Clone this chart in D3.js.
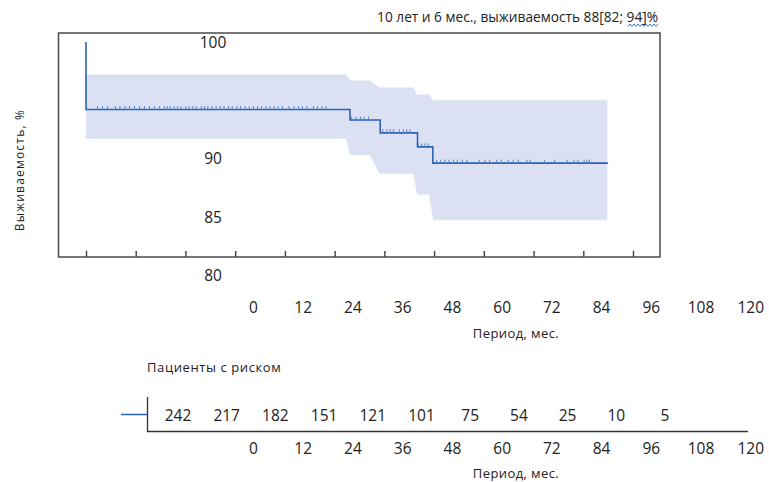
<!DOCTYPE html>
<html>
<head>
<meta charset="utf-8">
<script src="https://cdn.jsdelivr.net/npm/d3@7"></script>
<style>
  body { margin: 0; background: #fff; }
  text { font-family: "Open Sans", Roboto, sans-serif; fill: #222; }
</style>
</head>
<body>
<svg id="chart" width="769" height="482"></svg>
<script>
// Kaplan-Meier survival, months
const survTimes = [0, 0, 63.7, 71.0, 80.0, 83.7, 126];
const survValues = [100, 94.2, 93.3, 92.2, 91.0, 89.6, 89.6];

// confidence band
const ciTimes = [0, 62.8, 63.7, 68.5, 70.8, 79.0, 79.9, 82.8, 83.8, 125.8];
const ciUpper = [97.2, 97.2, 96.7, 96.7, 96.1, 96.1, 95.5, 95.5, 95.0, 95.0];
const ciLower = [91.7, 91.7, 90.3, 90.3, 88.7, 88.7, 86.9, 86.9, 84.7, 84.7];

// censored observations
const censorTimes = [2.8, 4.0, 5.2, 7.1, 8.2, 9.4, 10.5, 11.7, 12.9, 14.1, 15.3, 16.5, 17.7, 18.9, 19.6,
  20.3, 21.3, 22.1, 22.9, 24.1, 24.9, 25.8, 26.6, 27.8, 28.6, 29.4, 30.4, 31.4, 32.4, 33.3, 34.4, 35.3,
  36.4, 37.3, 38.4, 39.4, 40.4, 41.4, 42.4, 43.4, 44.4, 45.4, 46.4, 47.4, 49.0, 50.2, 51.3, 52.2, 53.3,
  54.9, 55.8, 56.9, 57.9,
  64.1, 65.2, 66.2, 67.1, 68.2,
  71.6, 72.6, 73.4, 74.2, 75.6, 76.6, 77.4, 78.2,
  80.2, 81.0, 81.8, 82.6,
  84.6, 85.6, 86.6, 87.6, 88.7, 89.6, 90.8, 91.9, 94.9, 96.3, 97.4, 99.1, 100.2, 101.9, 103.1, 104.3,
  106.4, 107.2, 110.6, 113.1, 116.1, 117.7, 118.7, 120.2, 120.9, 121.5];

const monthTicks = [0, 12, 24, 36, 48, 60, 72, 84, 96, 108, 120, 132];
const monthLabels = [0, 12, 24, 36, 48, 60, 72, 84, 96, 108, 120];
const yLabels = [100, 90, 85, 80];

const riskMonths = [0, 12, 24, 36, 48, 60, 72, 84, 96, 108, 120];
const riskCounts = [242, 217, 182, 151, 121, 101, 75, 54, 25, 10, 5];

const titleText = '10 лет и 6 мес., выживаемость 88[82; 94]%';
const yTitle = 'Выживаемость, %';
const xTitle = 'Период, мес.';
const riskTitle = 'Пациенты с риском';

const lineColor = '#2a62b6';
const bandColor = '#dbe1f3';

const svg = d3.select('svg#chart');

const x = d3.scaleLinear().domain([0, 132]).range([86, 633]);
const y = d3.scaleLinear().domain([80, 100]).range([275, 42]);
const labelShift = 167;

// band
const band = ciTimes.map((t, i) => ({t: t, hi: ciUpper[i], lo: ciLower[i]}));
svg.append('path')
  .datum(band)
  .attr('fill', bandColor)
  .attr('d', d3.area().x(d => x(d.t)).y0(d => y(d.lo)).y1(d => y(d.hi)));

// survival step line
const surv = survTimes.map((t, i) => ({t: t, v: survValues[i]}));
svg.append('path')
  .datum(surv)
  .attr('fill', 'none')
  .attr('stroke', lineColor)
  .attr('stroke-width', 1.6)
  .attr('d', d3.line().curve(d3.curveStepAfter).x(d => x(d.t)).y(d => y(d.v)));

// censor marks sit on the step the time falls in
const bis = d3.bisector(d => d.t).right;
const survAt = t => surv[Math.max(0, bis(surv, t) - 1)].v;
svg.append('g')
  .attr('stroke', '#4f80c8')
  .attr('stroke-width', 1)
  .selectAll('line')
  .data(censorTimes)
  .join('line')
  .attr('x1', d => x(d)).attr('x2', d => x(d))
  .attr('y1', d => y(survAt(d)) - 3.5)
  .attr('y2', d => y(survAt(d)) + 0.5);

// frame
svg.append('rect')
  .attr('x', 58.5).attr('y', 33)
  .attr('width', 601.5).attr('height', 224)
  .attr('fill', 'none')
  .attr('stroke', '#4a4a4a')
  .attr('stroke-width', 1.5);

// tick marks inside frame
const tickG = svg.append('g')
  .attr('transform', 'translate(0,257)')
  .call(d3.axisBottom(x).tickValues(monthTicks).tickSize(-6).tickFormat(''));
tickG.select('.domain').remove();
tickG.selectAll('line').attr('stroke', '#4a4a4a').attr('stroke-width', 1.5);

// month labels (shifted to the right as in the source)
function monthAxis(yPos) {
  const g = svg.append('g')
    .attr('transform', 'translate(' + labelShift + ',' + yPos + ')')
    .call(d3.axisBottom(x).tickValues(monthLabels).tickSize(0));
  g.select('.domain').remove();
  g.selectAll('text')
    .attr('y', 0).attr('dy', '0.35em')
    .attr('font-size', '15.5px')
    .attr('font-family', '"Open Sans", sans-serif')
    .attr('fill', '#222');
}
monthAxis(308);
monthAxis(449);

// y labels
const yg = svg.append('g')
  .attr('transform', 'translate(213,0)')
  .call(d3.axisLeft(y).tickValues(yLabels).tickSize(0));
yg.select('.domain').remove();
yg.selectAll('text')
  .attr('x', 0).attr('dy', '0.35em')
  .attr('text-anchor', 'middle')
  .attr('font-size', '15.5px')
  .attr('font-family', '"Open Sans", sans-serif')
  .attr('fill', '#222');

// titles
svg.append('text')
  .attr('x', 658).attr('y', 22)
  .attr('text-anchor', 'end')
  .attr('font-size', '13.7px')
  .text(titleText);

// spell-check squiggle under "94]%"
const wave = d3.range(0, 31, 2).map((d, i) => [628 + d, i % 2 ? 24 : 26.5]);
svg.append('path')
  .attr('d', d3.line()(wave))
  .attr('fill', 'none')
  .attr('stroke', '#3b74d8')
  .attr('stroke-width', 1);

svg.append('text')
  .attr('transform', 'translate(24,170) rotate(-90)')
  .attr('text-anchor', 'middle')
  .attr('font-size', '12px')
  .attr('letter-spacing', '1.2px')
  .text(yTitle);

svg.append('text')
  .attr('x', 516).attr('y', 338)
  .attr('text-anchor', 'middle')
  .attr('font-size', '13px')
  .attr('letter-spacing', '0.4px')
  .text(xTitle);

svg.append('text')
  .attr('x', 516).attr('y', 478)
  .attr('text-anchor', 'middle')
  .attr('font-size', '13px')
  .attr('letter-spacing', '0.4px')
  .text(xTitle);

// risk table
svg.append('text')
  .attr('x', 147).attr('y', 372)
  .attr('font-size', '13px')
  .attr('letter-spacing', '0.6px')
  .text(riskTitle);

svg.append('line')
  .attr('x1', 121).attr('x2', 147)
  .attr('y1', 414.5).attr('y2', 414.5)
  .attr('stroke', lineColor).attr('stroke-width', 1.5);

svg.append('path')
  .attr('d', 'M147.5,397V431.5H748')
  .attr('fill', 'none')
  .attr('stroke', '#333')
  .attr('stroke-width', 1.3);

const rx = d3.scaleLinear().domain([0, 120]).range([178, 665]);
svg.append('g')
  .selectAll('text')
  .data(riskCounts)
  .join('text')
  .attr('x', (d, i) => rx(riskMonths[i]))
  .attr('y', 416)
  .attr('dy', '0.35em')
  .attr('text-anchor', 'middle')
  .attr('font-size', '15.5px')
  .text(d => d);
</script>
</body>
</html>
